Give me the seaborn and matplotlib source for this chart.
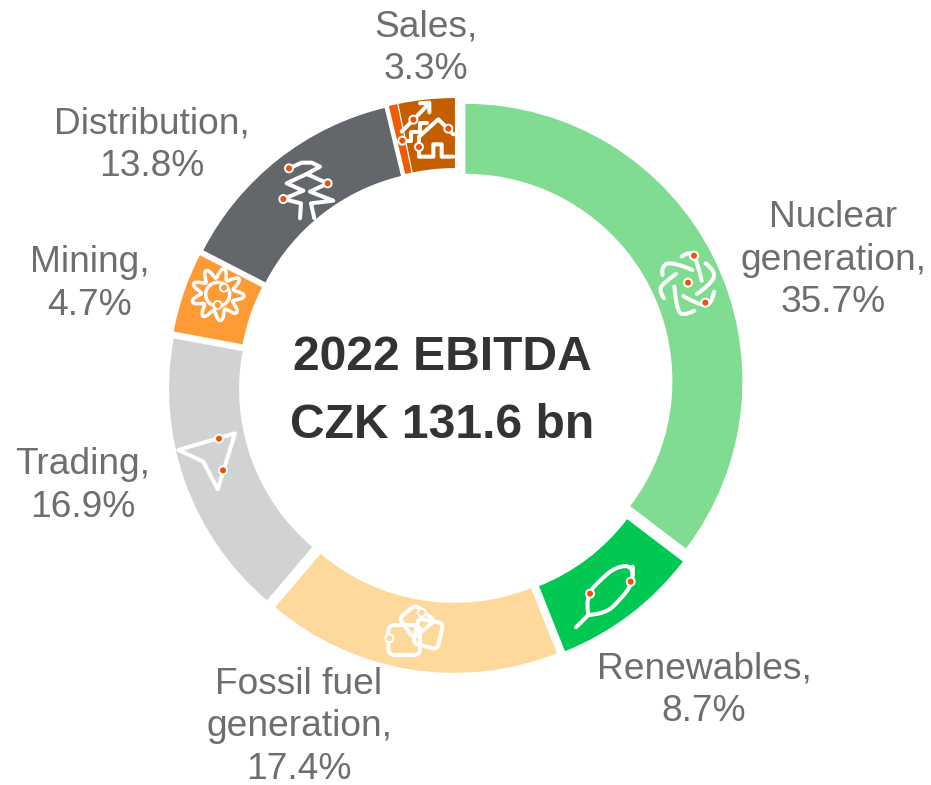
import numpy as np
import matplotlib
matplotlib.use('Agg')
import matplotlib.pyplot as plt
from matplotlib.path import Path
from matplotlib.patches import PathPatch, Circle
import seaborn as sns

# values, clockwise from 12 o'clock
segments = ['Nuclear\ngeneration', 'Renewables', 'Fossil fuel\ngeneration', 'Trading', 'Mining', 'Distribution', '', 'Sales']
shares = [35.7, 8.7, 17.4, 16.9, 4.7, 13.8, 0.5, 3.3]
seg_colors = ['#80DC90', '#00C853', '#FFD89B', '#D0D2D4', '#FF9B37', '#63666A', '#F05A00', '#C45F00']
center_lines = ['2022 EBITDA', 'CZK 131.6 bn']

# label centres in picture pixels
label_xy = [(833, 260), (704, 690), (299, 727), (83, 486), (90, 284), (152, 145), None, (426, 48)]

W, H = 931, 785
CX, CY = 456, 385.5
RADIUS = 277
DOT = '#F0500A'

sns.set_theme(style='white')
plt.rcParams['font.family'] = ['Liberation Sans', 'DejaVu Sans']

fig = plt.figure(figsize=(W / 100, H / 100), dpi=100)
ax = fig.add_axes([0, 0, 1, 1])

# every wedge is pulled out by the same amount, that gives the uneven gaps
# pie takes explode in data units and the data units here are pixels
ax.pie(shares, colors=sns.color_palette(seg_colors, len(seg_colors)), startangle=90, counterclock=False,
       explode=[10.5] * len(shares), center=(CX, H - CY), radius=RADIUS, frame=True,
       wedgeprops=dict(width=70, edgecolor='none'))
ax.set_xlim(0, W)
ax.set_ylim(0, H)
ax.set_aspect('equal')
ax.axis('off')

for name, val, xy in zip(segments, shares, label_xy):
    if xy is None:
        continue
    ax.text(xy[0], H - xy[1], f'{name},\n{val}%', ha='center', va='center', fontsize=26.7,
            color='#6D6E71', linespacing=1.26, zorder=8)

ax.text(442.5, H - 358, center_lines[0], ha='center', va='center', fontsize=34.6, fontweight='bold', color='#333333', zorder=8)
ax.text(442, H - 426, center_lines[1], ha='center', va='center', fontsize=34.6, fontweight='bold', color='#333333', zorder=8)


# icon helpers, points come from the 3x crops so divide by 3 and add the crop origin
def crop(origin, pts):
    return [(origin[0] + x / 3, H - (origin[1] + y / 3)) for x, y in pts]


def stroke(origin, pts, smooth=True, closed=False, lw=2.9):
    p = crop(origin, pts)
    if smooth and len(p) > 2:
        verts = [p[0]]
        codes = [Path.MOVETO]
        for i in range(1, len(p) - 1):
            next_pt = p[i + 1] if i == len(p) - 2 else ((p[i][0] + p[i + 1][0]) / 2, (p[i][1] + p[i + 1][1]) / 2)
            verts += [p[i], next_pt]
            codes += [Path.CURVE3, Path.CURVE3]
    else:
        verts = list(p)
        codes = [Path.MOVETO] + [Path.LINETO] * (len(p) - 1)
        if closed:
            verts.append(p[0])
            codes.append(Path.CLOSEPOLY)
    ax.add_patch(PathPatch(Path(verts, codes), fc='none', ec='white', lw=lw, capstyle='round', joinstyle='round', zorder=4))


def rounded(origin, corners, r=0.2, lw=2.9):
    p = np.array(crop(origin, corners))
    n = len(p)
    verts, codes = [], []
    for i in range(n):
        prev_pt, cur, next_pt = p[i - 1], p[i], p[(i + 1) % n]
        a = cur + (prev_pt - cur) * r
        b = cur + (next_pt - cur) * r
        verts += [tuple(a), tuple(cur), tuple(b)]
        codes += [Path.MOVETO if i == 0 else Path.LINETO, Path.CURVE3, Path.CURVE3]
    verts.append(verts[0])
    codes.append(Path.LINETO)
    ax.add_patch(PathPatch(Path(verts, codes), fc='none', ec='white', lw=lw, joinstyle='round', zorder=4))


def dots(origin, pts, color=DOT):
    for x, y in crop(origin, pts):
        ax.add_patch(Circle((x, y), 5, fc='white', ec='none', zorder=5))
        ax.add_patch(Circle((x, y), 3, fc=color, ec='none', zorder=5))


# nuclear
o = (640, 230)
stroke(o, [(125, 80), (150, 60), (172, 95), (185, 152)])
stroke(o, [(197, 100), (230, 125), (210, 165), (170, 192)])
stroke(o, [(130, 198), (170, 222), (215, 228), (222, 185)])
stroke(o, [(163, 242), (125, 262), (108, 225), (103, 170)])
stroke(o, [(72, 205), (55, 180), (75, 155), (108, 132)])
stroke(o, [(157, 120), (100, 95), (62, 108), (68, 135)])
dots(o, [(162, 77), (144, 158), (196, 218)])

# renewables
o = (560, 550)
stroke(o, [(48, 232), (85, 195)], smooth=False)
stroke(o, [(85, 195), (75, 140), (125, 85), (170, 50), (218, 47), (218, 75)])
stroke(o, [(85, 195), (135, 192), (180, 150), (222, 95), (218, 50)])
dots(o, [(90, 131), (212, 95)])

# fossil fuel
o = (370, 590)
rounded(o, [(55, 105), (150, 105), (150, 195), (55, 195)])
rounded(o, [(135, 45), (195, 92), (130, 145), (88, 85)])
rounded(o, [(145, 85), (220, 100), (202, 178), (130, 160)])
dots(o, [(155, 68), (58, 145)], color='#FFD89B')

# trading
o = (165, 420)
stroke(o, [(210, 40), (40, 90), (115, 125), (158, 208)], smooth=False, closed=True)
dots(o, [(162, 56), (174, 151)])

# mining, small cog
o = (175, 250)
t = np.linspace(0, 2 * np.pi, 200)
r_cog = 64 + 15 * np.cos(9 * t + 0.6)
ax.plot(175 + 128 / 3 + r_cog / 3 * np.cos(t), H - (250 + 133 / 3) + r_cog / 3 * np.sin(t), color='white', lw=2.5, zorder=4)
ax.add_patch(Circle((175 + 128 / 3, H - (250 + 133 / 3)), 12, fc='none', ec='white', lw=2.5, zorder=4))
dots(o, [(147, 113), (128, 165)], color='#FF9B37')

# distribution
o = (265, 150)
stroke(o, [(72, 55), (110, 38), (140, 38), (165, 50), (125, 72), (188, 100), (135, 125), (205, 152), (138, 160), (148, 205)], smooth=False)
stroke(o, [(125, 72), (65, 100), (115, 122), (55, 147), (108, 160), (105, 205)], smooth=False)
dots(o, [(72, 55), (188, 100), (55, 147)])

# sales
o = (370, 85)
stroke(o, [(95, 140), (175, 58)], smooth=False)
stroke(o, [(150, 55), (178, 53), (178, 82)], smooth=False)
stroke(o, [(97, 167), (122, 167), (122, 140), (150, 140), (150, 115), (170, 115)], smooth=False)
stroke(o, [(250, 148), (205, 103), (147, 155), (147, 215), (190, 215), (190, 178), (215, 178), (215, 215), (250, 215)], smooth=False)
dots(o, [(130, 104), (97, 167), (147, 186), (235, 131)])

fig.savefig('out.png', dpi=100)
